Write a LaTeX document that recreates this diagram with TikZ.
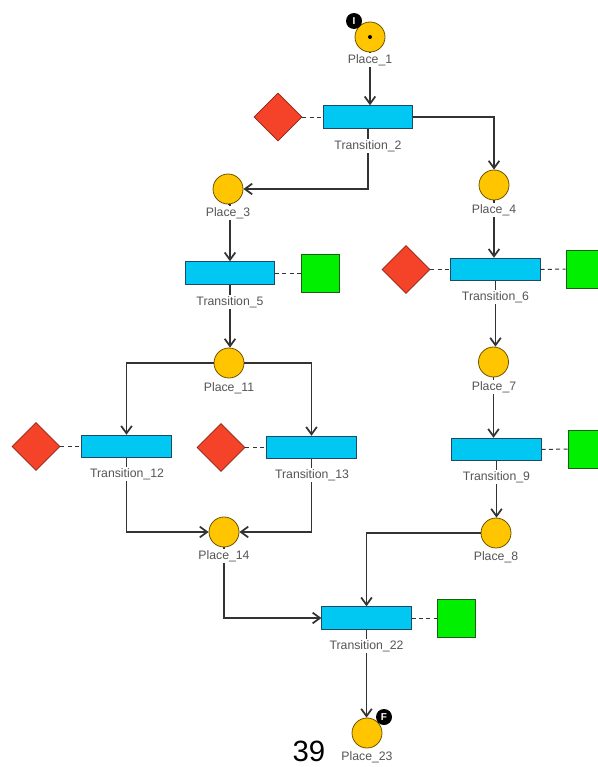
\documentclass[tikz,border=0pt]{standalone}
\usepackage{fontspec}
\setmainfont{Liberation Sans}
\usetikzlibrary{shapes.geometric,arrows.meta}
\definecolor{placefill}{HTML}{FFC600}
\definecolor{placedraw}{HTML}{6E5200}
\definecolor{transfill}{HTML}{00C8F2}
\definecolor{transdraw}{HTML}{1E4A66}
\definecolor{guardfill}{HTML}{F5432A}
\definecolor{guarddraw}{HTML}{8E2414}
\definecolor{resfill}{HTML}{00F000}
\definecolor{resdraw}{HTML}{1A5E1A}
\definecolor{linecol}{HTML}{333333}
\definecolor{labeltext}{HTML}{555555}
\begin{document}
\begin{tikzpicture}[x=0.75pt,y=-0.75pt,
 place/.style={circle,draw=placedraw,fill=placefill,minimum size=22.5pt,inner sep=0pt,line width=0.6pt},
 trans/.style={rectangle,draw=transdraw,fill=transfill,minimum width=67pt,minimum height=17pt,inner sep=0pt,line width=0.6pt},
 guard/.style={diamond,draw=guarddraw,fill=guardfill,minimum size=36pt,inner sep=0pt,line width=0.6pt},
 res/.style={rectangle,draw=resdraw,fill=resfill,minimum size=28.5pt,inner sep=0pt,line width=0.6pt},
 lbl/.style={fill=white,inner sep=1pt,text=labeltext,font=\fontsize{9.2}{10}\selectfont},
 arc/.style={draw=linecol,line width=0.8pt,-{Straight Barb[length=5.5pt,width=8pt,line width=1.3pt]}},
 link/.style={draw=linecol,dash pattern=on 3pt off 2.5pt,line width=0.75pt},
 badge/.style={circle,fill=black,minimum size=12pt,inner sep=0pt,text=white,font=\fontsize{7.5}{7.5}\selectfont\bfseries},
 token/.style={circle,fill=black,minimum size=3pt,inner sep=0pt}]
\clip (0,0) rectangle (598,767);
\useasboundingbox (0,0) rectangle (598,767);
% places
\node[place] (P1) at (370,37) {};
\node[token] (tok) at (370,37) {};
\node[badge] (bI) at (354,21) {I};
\node[place] (P3) at (228,189) {};
\node[place] (P4) at (494,185) {};
\node[place] (P11) at (229,363) {};
\node[place] (P14) at (224,532) {};
\node[place] (P7) at (493.5,362) {};
\node[place] (P8) at (496,533) {};
\node[place] (P23) at (367,733) {};
\node[badge] (bF) at (384,717) {F};
% transitions
\node[trans] (T2) at (368,117) {};
\node[trans] (T5) at (230,273) {};
\node[trans] (T12) at (126.5,446.5) {};
\node[trans] (T13) at (311.5,447.5) {};
\node[trans] (T6) at (495.5,269.5) {};
\node[trans] (T9) at (496.5,449.5) {};
\node[trans] (T22) at (366.5,618) {};
% guards
\node[guard] (G2) at (278,117) {};
\node[guard] (G12) at (36,446.5) {};
\node[guard] (G13) at (221,447.5) {};
\node[guard] (G6) at (406,269.5) {};
% resources
\node[res] (R5) at (320,273) {};
\node[res] (R6) at (585,269) {};
\node[res] (R9) at (587,449) {};
\node[res] (R22) at (456.5,618) {};
% dashed links
\draw[link] (G2.east) -- (T2.west);
\draw[link] (G12.east) -- (T12.west);
\draw[link] (G13.east) -- (T13.west);
\draw[link] (G6.east) -- (T6.west);
\draw[link] (T5.east) -- (R5.west);
\draw[link] (T6.east) -- (R6.west);
\draw[link] (T9.east) -- (R9.west);
\draw[link] (T22.east) -- (R22.west);
% arcs
\draw[arc] (P1.south) -- (P1.south |- T2.north);
\draw[arc] (T2.east) -| (P4.north);
\draw[arc] (T2.south) |- (P3.east);
\draw[arc] (P3.south) -- (P3.south -| T5.north) -- (T5.north);
\draw[arc] (T5.south) -- (T5.south |- P11.north);
\draw[arc] (P11.west) -| (T12.north);
\draw[arc] (P11.east) -| (T13.north);
\draw[arc] (T12.south) |- (P14.west);
\draw[arc] (T13.south) |- (P14.east);
\draw[arc] (P14.south) |- (T22.west);
\draw[arc] (P4.south) -- (P4.south |- T6.north);
\draw[arc] (T6.south) -- (T6.south |- P7.north);
\draw[arc] (P7.south) -- (P7.south |- T9.north);
\draw[arc] (T9.south) -- (T9.south |- P8.north);
\draw[arc] (P8.west) -| (T22.north);
\draw[arc] (T22.south) -- (T22.south |- P23.north);
% labels
\node[lbl] (lP1) at (370,60) {Place\_1};
\node[lbl] (lT2) at (368,146) {Transition\_2};
\node[lbl] (lP3) at (228,213) {Place\_3};
\node[lbl] (lP4) at (494,210) {Place\_4};
\node[lbl] (lT5) at (230,302) {Transition\_5};
\node[lbl] (lT6) at (495.5,297) {Transition\_6};
\node[lbl] (lP11) at (229,388) {Place\_11};
\node[lbl] (lP7) at (494,387) {Place\_7};
\node[lbl] (lT12) at (127,474) {Transition\_12};
\node[lbl] (lT13) at (312,475) {Transition\_13};
\node[lbl] (lT9) at (496.5,477) {Transition\_9};
\node[lbl] (lP14) at (224,556) {Place\_14};
\node[lbl] (lP8) at (496,557) {Place\_8};
\node[lbl] (lT22) at (366.5,646) {Transition\_22};
\node[lbl] (lP23) at (367,757) {Place\_23};
\node[font=\fontsize{22}{24}\selectfont,inner sep=0pt] (num) at (309,751.5) {39};
\end{tikzpicture}
\end{document}
